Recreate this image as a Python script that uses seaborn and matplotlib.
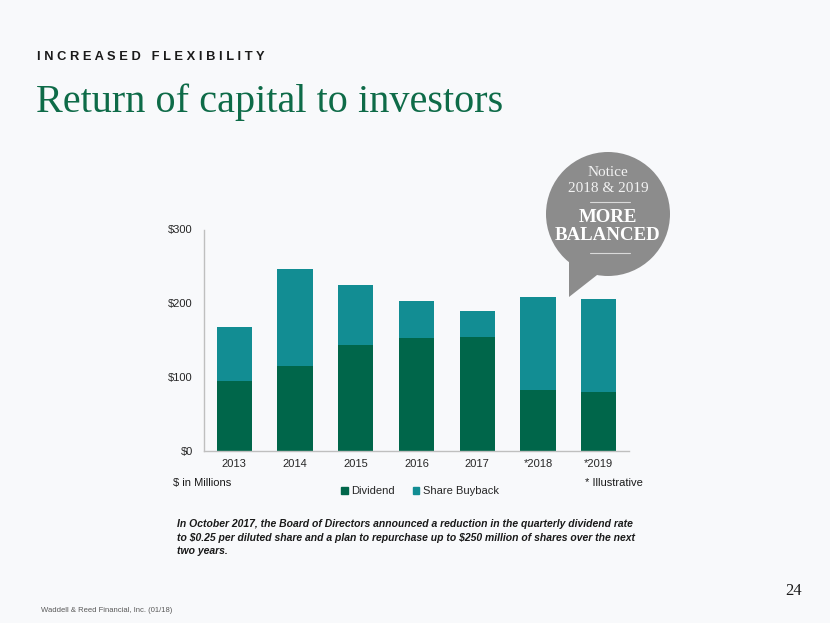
import numpy as np
import pandas as pd
import seaborn as sns
import matplotlib.pyplot as plt
from matplotlib.patches import Circle, Polygon, Patch

# values ($ in millions)
years = ['2013', '2014', '2015', '2016', '2017', '*2018', '*2019']
dividend = [95, 115, 144, 153, 154, 82, 80]
buyback = [73, 132, 81, 50, 36, 126, 126]
yticks = [0, 100, 200, 300]
ytick_labels = ['\\$0', '\\$100', '\\$200', '\\$300']

GREEN = '#00664A'
TEAL = '#128D93'
TITLE_GREEN = '#0E6B48'
BG = '#F8F9FB'
BUBBLE = '#8C8C8C'

df = pd.DataFrame({'Year': years, 'Dividend': dividend, 'Share Buyback': buyback})
df['Total'] = df['Dividend'] + df['Share Buyback']

sns.set_theme(style='white')
plt.rcParams['font.family'] = ['Liberation Sans', 'DejaVu Sans']

W, H = 830, 623
fig = plt.figure(figsize=(8.3, 6.23), dpi=100, facecolor=BG)

# chart axes, placed in pixel terms of the slide
ax = fig.add_axes([204 / W, 1 - 451 / H, 425 / W, 221.5 / H])
ax.set_facecolor(BG)
sns.barplot(data=df, x='Year', y='Total', color=TEAL, width=0.58,
            saturation=1, linewidth=0, ax=ax)
sns.barplot(data=df, x='Year', y='Dividend', color=GREEN, width=0.58,
            saturation=1, linewidth=0, ax=ax)
ax.set_ylim(0, 300)
ax.set_xlim(-0.5, len(years) - 0.5)
ax.set_yticks(yticks)
ax.set_yticklabels(ytick_labels)
ax.set_xlabel('')
ax.set_ylabel('')
ax.tick_params(axis='both', length=0, labelsize=8, colors='#262626')
ax.tick_params(axis='y', pad=8)
ax.tick_params(axis='x', pad=6)
for side in ['top', 'right']:
    ax.spines[side].set_visible(False)
for side in ['left', 'bottom']:
    ax.spines[side].set_color('#BFBFBF')
    ax.spines[side].set_linewidth(1)

handles = [Patch(color=GREEN, label='Dividend'), Patch(color=TEAL, label='Share Buyback')]
fig.legend(handles=handles, loc='center', bbox_to_anchor=(420 / W, 1 - 491 / H),
           ncol=2, frameon=False, fontsize=8, handlelength=0.6, handleheight=0.6,
           handletextpad=0.3, columnspacing=1.6)

# overlay in slide pixels for texts and the speech bubble
ov = fig.add_axes([0, 0, 1, 1], facecolor='none')
ov.set_xlim(0, W)
ov.set_ylim(H, 0)
ov.axis('off')

ov.text(37, 57, 'I N C R E A S E D   F L E X I B I L I T Y', fontsize=9.3,
        fontweight='bold', color='#1A1A1A', va='center', ha='left')
ov.text(36, 112, 'Return of capital to investors', fontsize=29,
        family=['Liberation Serif', 'DejaVu Serif'], color=TITLE_GREEN,
        va='baseline', ha='left')

ov.text(173, 483, '\\$ in Millions', fontsize=8, color='#1A1A1A', va='center', ha='left')
ov.text(643, 483, '* Illustrative', fontsize=8, color='#1A1A1A', va='center', ha='right')

note = ('In October 2017, the Board of Directors announced a reduction in the quarterly dividend rate\n'
        'to \\$0.25 per diluted share and a plan to repurchase up to \\$250 million of shares over the next\n'
        'two years.')
ov.text(177, 519, note, fontsize=7.45, fontweight='bold', fontstyle='italic',
        color='#1A1A1A', va='top', ha='left', linespacing=1.45)

ov.text(794, 591, '24', fontsize=12, family=['Liberation Serif', 'DejaVu Serif'],
        color='#1A1A1A', va='center', ha='center')
ov.text(41, 611, 'Waddell & Reed Financial, Inc. (01/18)', fontsize=5.5,
        color='#595959', va='center', ha='left')

# speech bubble
ov.add_patch(Circle((608, 214), 62, color=BUBBLE, lw=0))
ov.add_patch(Polygon([(569, 245), (569, 297), (606, 268)], closed=True, color=BUBBLE, lw=0))
serif = ['Liberation Serif', 'DejaVu Serif']
ov.text(608, 173, 'Notice', fontsize=11, family=serif, color='#F2F2F2', ha='center', va='center')
ov.text(608, 189, '2018 & 2019', fontsize=11, family=serif, color='#F2F2F2', ha='center', va='center')
ov.plot([590, 630], [202, 202], color='#D9D9D9', lw=0.8)
ov.text(608, 218, 'MORE', fontsize=13.6, family=serif, fontweight='bold',
        color='#FFFFFF', ha='center', va='center')
ov.text(608, 236, 'BALANCED', fontsize=13.6, family=serif, fontweight='bold',
        color='#FFFFFF', ha='center', va='center')
ov.plot([590, 630], [253, 253], color='#D9D9D9', lw=0.8)

fig.savefig('out.png', dpi=100, facecolor=BG)
